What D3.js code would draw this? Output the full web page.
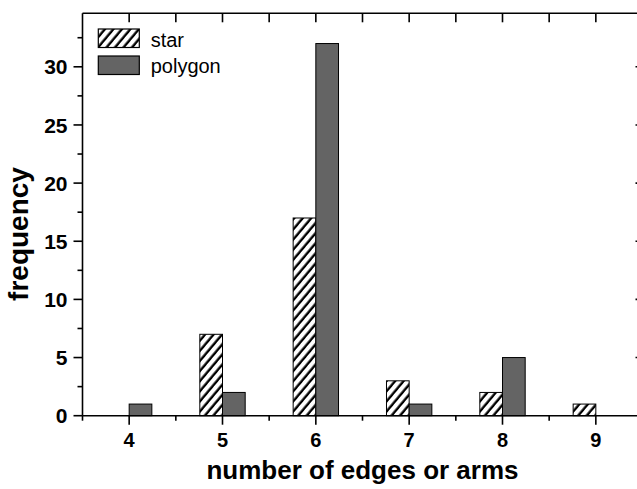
<!DOCTYPE html>
<html><head><meta charset="utf-8">
<script src="https://cdn.jsdelivr.net/npm/d3@7"></script>
<style>body{margin:0;background:#fff}svg{display:block}</style>
</head><body>
<svg id="c" width="637" height="489"></svg>
<script>
const categories = [4, 5, 6, 7, 8, 9];
const starValues = [0, 7, 17, 3, 2, 1];
const polygonValues = [1, 2, 32, 1, 5, 0];
const seriesNames = ["star", "polygon"];
const yTickValues = [0, 5, 10, 15, 20, 25, 30];

const svg = d3.select("#c");
const L = 82.5, R = 642.5, T = 13.3, B = 415.7;
const x = d3.scaleLinear().domain([3.5, 9.5]).range([L, R]);
const y = d3.scaleLinear().domain([0, 34.6]).range([B, T]);
const bw = 0.243;

const defs = svg.append("defs");
const pat = defs.append("pattern").attr("id", "hatch").attr("patternUnits", "userSpaceOnUse")
  .attr("width", 6.5).attr("height", 6.5).attr("patternTransform", "rotate(40)");
pat.append("rect").attr("width", 6.5).attr("height", 6.5).attr("fill", "#fff");
pat.append("line").attr("x1", 1.6).attr("y1", -1).attr("x2", 1.6).attr("y2", 8).attr("stroke", "#000").attr("stroke-width", 2.4);

const font = "'Liberation Sans', Arial, sans-serif";

// bars
const data = categories.map((c, i) => ({c, star: starValues[i], poly: polygonValues[i]}));
svg.append("g").selectAll("rect").data(data.filter(d => d.star > 0)).join("rect")
  .attr("x", d => x(d.c - bw)).attr("width", d => x(d.c) - x(d.c - bw))
  .attr("y", d => y(d.star)).attr("height", d => y(0) - y(d.star))
  .attr("fill", "url(#hatch)").attr("stroke", "#000").attr("stroke-width", 1);
svg.append("g").selectAll("rect").data(data.filter(d => d.poly > 0)).join("rect")
  .attr("x", d => x(d.c)).attr("width", d => x(d.c + bw) - x(d.c))
  .attr("y", d => y(d.poly)).attr("height", d => y(0) - y(d.poly))
  .attr("fill", "#646464").attr("stroke", "#000").attr("stroke-width", 1);

// axes
const ax = svg.append("g").attr("stroke", "#000").attr("stroke-width", 1.6);
ax.append("line").attr("x1", L).attr("x2", R).attr("y1", B).attr("y2", B);
ax.append("line").attr("x1", L).attr("x2", R).attr("y1", T).attr("y2", T);
ax.append("line").attr("x1", L).attr("x2", L).attr("y1", T).attr("y2", B);
ax.append("line").attr("x1", R).attr("x2", R).attr("y1", T).attr("y2", B);

const xMinor = d3.range(3.5, 9.51, 0.5);
xMinor.forEach(v => {
  const major = Number.isInteger(v);
  ax.append("line").attr("x1", x(v)).attr("x2", x(v)).attr("y1", B).attr("y2", B + (major ? 9 : 5));
  if (v > 3.5) ax.append("line").attr("x1", x(v)).attr("x2", x(v)).attr("y1", T).attr("y2", T + 9);
});
d3.range(0, 34.6, 2.5).forEach(v => {
  const major = v % 5 === 0;
  ax.append("line").attr("x1", L - (major ? 9 : 5)).attr("x2", L).attr("y1", y(v)).attr("y2", y(v));
  if (major && v > 0) ax.append("line").attr("x1", R - 7).attr("x2", R).attr("y1", y(v)).attr("y2", y(v));
});

// tick labels
svg.append("g").selectAll("text").data(yTickValues).join("text")
  .attr("x", L - 15).attr("y", d => y(d)).attr("dy", "0.36em").attr("text-anchor", "end")
  .attr("font-family", font).attr("font-weight", "bold").attr("font-size", 21).text(d => d);
svg.append("g").selectAll("text").data(categories).join("text")
  .attr("x", d => x(d)).attr("y", 447).attr("text-anchor", "middle")
  .attr("font-family", font).attr("font-weight", "bold").attr("font-size", 20).text(d => d);

// axis titles
svg.append("text").attr("x", (L + R) / 2).attr("y", 479).attr("text-anchor", "middle")
  .attr("font-family", font).attr("font-weight", "bold").attr("font-size", 26).text("number of edges or arms");
svg.append("text").attr("transform", "translate(28,234) rotate(-90)").attr("text-anchor", "middle")
  .attr("font-family", font).attr("font-weight", "bold").attr("font-size", 28).text("frequency");

// legend
const leg = svg.append("g");
const fills = ["url(#hatch)", "#646464"];
seriesNames.forEach((n, i) => {
  leg.append("rect").attr("x", 98.3).attr("y", 29 + i * 27).attr("width", 41).attr("height", 18.5)
    .attr("fill", fills[i]).attr("stroke", "#000").attr("stroke-width", 1.2);
  leg.append("text").attr("x", 150.7).attr("y", 46.5 + i * 26.5)
    .attr("font-family", font).attr("font-size", 20).text(n);
});
</script>
</body></html>
